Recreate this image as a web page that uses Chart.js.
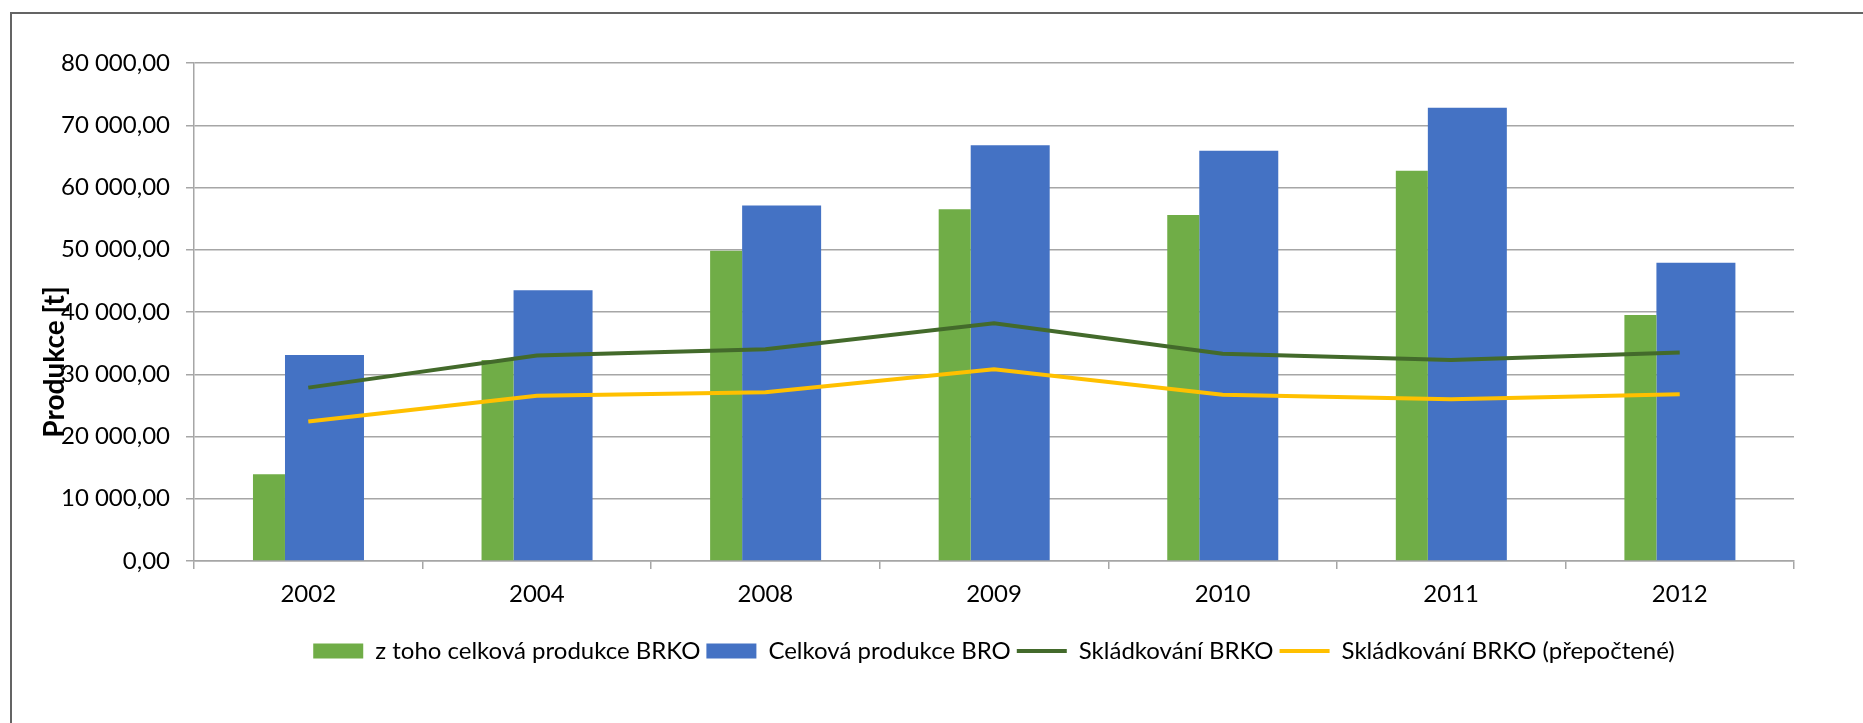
<!DOCTYPE html>
<html>
<head>
<meta charset="utf-8">
<script src="https://cdn.jsdelivr.net/npm/chart.js@4.4.0/dist/chart.umd.min.js"></script>
<style>
  html, body { margin: 0; padding: 0; background: #fff; overflow: hidden; }
  #wrap { position: relative; width: 1863px; height: 723px; }
  #frame { position: absolute; left: 10px; top: 12px; width: 1870px; height: 730px; border: 2px solid #646464; pointer-events: none; }
  canvas { position: absolute; left: 0; top: 0; }
</style>
</head>
<body>
<div id="wrap">
  <canvas id="chart" width="1863" height="723"></canvas>
  <div id="frame"></div>
</div>
<script>
// data
const years = ['2002', '2004', '2008', '2009', '2010', '2011', '2012'];
const brko = [13950, 32300, 49850, 56500, 55600, 62700, 39500];
const bro = [33100, 43500, 57100, 66800, 65900, 72800, 47900];
const skladkovani = [27850, 33000, 34000, 38200, 33300, 32300, 33500];
const skladkovaniPrepoctene = [22400, 26550, 27100, 30800, 26700, 26000, 26800];
const yMax = 80000;
const yStep = 10000;
const yTitle = 'Produkce [t]';

const font = 'Lato, "Liberation Sans", sans-serif';
const gridColor = '#a6a6a6';

function czNumber(v) {
  return String(v).replace(/\B(?=(\d{3})+(?!\d))/g, ' ') + ',00';
}

// axis title sits over the tick labels like in the Excel original
const yTitlePlugin = {
  id: 'yTitle',
  afterDraw(chart) {
    const ctx = chart.ctx;
    ctx.save();
    ctx.translate(55, 362);
    ctx.rotate(-Math.PI / 2);
    ctx.font = 'bold 28px ' + font;
    ctx.fillStyle = '#000';
    ctx.textAlign = 'center';
    ctx.textBaseline = 'middle';
    ctx.fillText(yTitle, 0, 0);
    ctx.restore();
  }
};

const data = {
  labels: years,
  datasets: [{
    type: 'bar',
    label: 'z toho celková produkce BRKO',
    data: brko,
    backgroundColor: '#70ad47',
    borderWidth: 0,
    categoryPercentage: 0.688,
    barPercentage: 0.407,
    pointStyle: 'rect',
    order: 1
  }, {
    type: 'bar',
    label: 'Celková produkce BRO',
    data: bro,
    backgroundColor: '#4472c4',
    borderWidth: 0,
    categoryPercentage: 0.2835,
    barPercentage: 2.438,
    pointStyle: 'rect',
    order: 1
  }, {
    type: 'line',
    label: 'Skládkování BRKO',
    data: skladkovani,
    borderColor: '#436a2b',
    backgroundColor: '#436a2b',
    borderWidth: 4,
    pointRadius: 0,
    pointStyle: 'line',
    order: 0
  }, {
    type: 'line',
    label: 'Skládkování BRKO (přepočtené)',
    data: skladkovaniPrepoctene,
    borderColor: '#ffc000',
    backgroundColor: '#ffc000',
    borderWidth: 4,
    pointRadius: 0,
    pointStyle: 'line',
    order: 0
  }]
};

const config = {
  type: 'bar',
  data: data,
  options: {
    responsive: false,
    animation: false,
    layout: { padding: { left: 0, right: 69, top: 63, bottom: 50 } },
    plugins: {
      legend: {
        position: 'bottom',
        fullSize: false,
        labels: {
          usePointStyle: true,
          pointStyleWidth: 50,
          boxWidth: 50,
          boxHeight: 15,
          padding: 6,
          color: '#000',
          font: { family: font, size: 24 },
          sort: (a, b) => a.datasetIndex - b.datasetIndex
        }
      },
      tooltip: { enabled: false }
    },
    scales: {
      x: {
        afterFit: (s) => { s.height = 72; },
        grid: {
          offset: true,
          drawOnChartArea: false,
          tickLength: 8,
          color: gridColor,
          lineWidth: 1.5
        },
        border: { color: gridColor, width: 1.5 },
        ticks: {
          padding: 11,
          color: '#000',
          font: { family: font, size: 24 }
        }
      },
      y: {
        min: 0,
        max: yMax,
        afterFit: (s) => { s.width = 194; },
        grid: {
          tickLength: 8,
          color: gridColor,
          lineWidth: 1.5
        },
        border: { color: gridColor, width: 1.5 },
        ticks: {
          stepSize: yStep,
          padding: 16,
          color: '#000',
          font: { family: font, size: 24 },
          callback: (v) => czNumber(v)
        }
      }
    }
  },
  plugins: [yTitlePlugin]
};

document.addEventListener('DOMContentLoaded', function () {
  const ctx = document.getElementById('chart').getContext('2d');
  new Chart(ctx, config);
});
</script>
</body>
</html>
